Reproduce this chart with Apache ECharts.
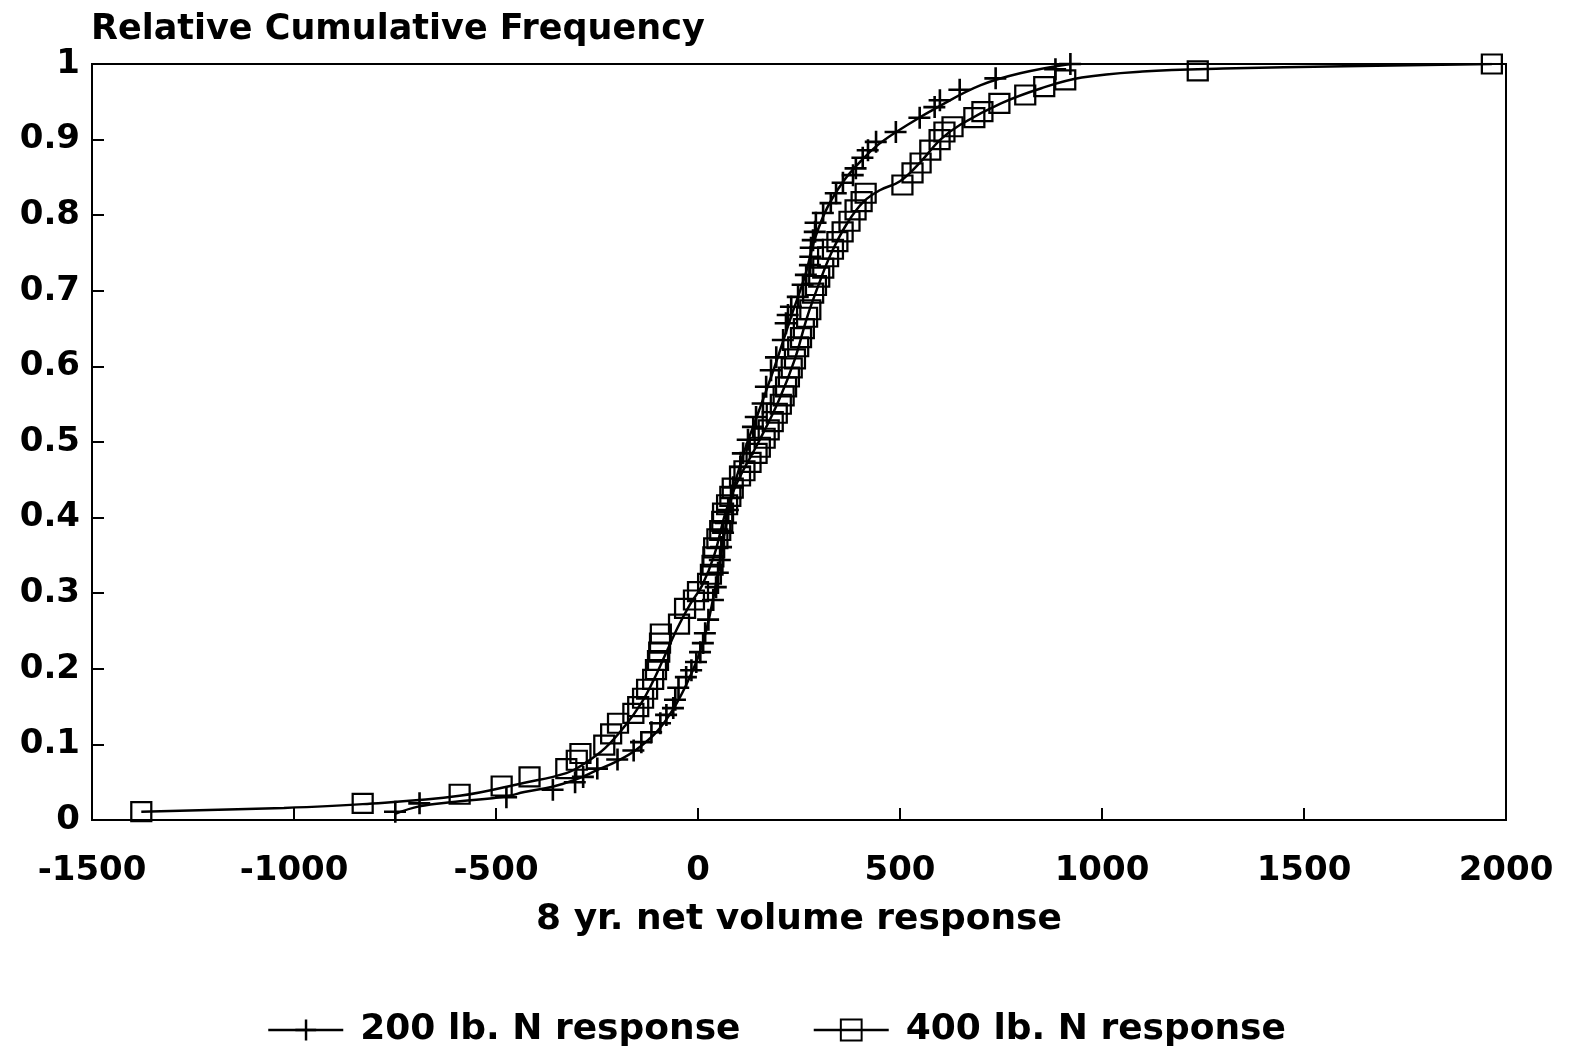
<!DOCTYPE html>
<html>
<head>
<meta charset="utf-8">
<script src="https://cdn.jsdelivr.net/npm/echarts@6/dist/echarts.min.js"></script>
<style>
html,body{margin:0;padding:0;background:#fff;}
#chart{width:1572px;height:1046px;}
</style>
</head>
<body>
<div id="chart"></div>
<script>
// ---- Data ----
var xTicks = [-1500, -1000, -500, 0, 500, 1000, 1500, 2000];
var yTicks = [0, 0.1, 0.2, 0.3, 0.4, 0.5, 0.6, 0.7, 0.8, 0.9, 1];

// 200 lb. N response: observed points (x = 8 yr net volume response, y = relative cumulative frequency)
var x200 = [-750,-690,-475,-360,-305,-285,-250,-200,-160,-141,-116,-94,-79,-62,-57,-49,-30,-17,-5,5,12,17,25,37,44,49,54,57,62,69,74,81,86,104,111,123,136,143,160,168,180,193,210,217,222,230,247,259,267,277,278,279,284,289,291,309,328,341,358,383,390,407,420,440,489,548,585,598,647,736,884,921];
var y200 = [0.011,0.022,0.030,0.040,0.050,0.057,0.068,0.080,0.092,0.103,0.116,0.128,0.139,0.148,0.159,0.175,0.189,0.198,0.209,0.222,0.234,0.247,0.265,0.291,0.308,0.327,0.344,0.361,0.380,0.393,0.410,0.426,0.440,0.467,0.485,0.503,0.520,0.533,0.551,0.573,0.595,0.612,0.635,0.657,0.668,0.679,0.692,0.708,0.721,0.734,0.745,0.757,0.767,0.778,0.790,0.803,0.816,0.829,0.843,0.853,0.862,0.876,0.886,0.897,0.910,0.929,0.943,0.952,0.966,0.981,0.993,1.000];

// 400 lb. N response: observed points
var x400 = [-1378,-830,-590,-486,-417,-326,-300,-291,-232,-215,-198,-160,-148,-136,-126,-111,-104,-99,-96,-94,-92,-47,-32,-10,0,25,32,36,38,40,48,55,60,62,72,80,86,104,115,130,145,153,165,175,185,195,205,212,218,225,232,240,248,255,262,270,278,285,292,300,310,322,334,345,358,375,390,405,415,506,531,551,575,598,610,630,684,704,746,810,857,909,1237,1965];
var y400 = [0.011,0.022,0.034,0.045,0.057,0.068,0.079,0.088,0.099,0.114,0.128,0.141,0.150,0.161,0.173,0.186,0.199,0.211,0.222,0.234,0.246,0.259,0.280,0.291,0.302,0.313,0.325,0.337,0.348,0.360,0.372,0.383,0.395,0.406,0.417,0.428,0.439,0.455,0.462,0.473,0.485,0.493,0.505,0.516,0.527,0.538,0.550,0.561,0.573,0.586,0.598,0.610,0.626,0.638,0.650,0.665,0.675,0.697,0.707,0.718,0.730,0.745,0.755,0.765,0.778,0.792,0.807,0.818,0.829,0.840,0.856,0.869,0.886,0.900,0.910,0.917,0.929,0.937,0.948,0.959,0.970,0.979,0.991,1.000];

// Smooth curves drawn through each set
var curve200X = [-750,-690,-600,-476,-430,-360,-300,-250,-200,-153,-100,-60,-30,0,20,40,60,80,110,150,190,230,265,290,320,360,400,450,520,600,700,800,921];
var curve200Y = [0.008,0.018,0.024,0.031,0.037,0.044,0.054,0.066,0.078,0.093,0.118,0.148,0.178,0.215,0.25,0.30,0.36,0.42,0.48,0.54,0.60,0.665,0.72,0.77,0.81,0.845,0.87,0.895,0.92,0.945,0.972,0.988,1.0];
var curve400X = [-1378,-1025,-830,-590,-432,-326,-280,-230,-180,-140,-110,-80,-50,-20,10,40,70,100,150,200,240,270,300,330,370,410,450,500,550,600,650,750,850,950,1100,1300,1600,1965];
var curve400Y = [0.011,0.016,0.021,0.032,0.049,0.062,0.075,0.095,0.125,0.155,0.185,0.22,0.255,0.285,0.31,0.35,0.41,0.45,0.50,0.555,0.61,0.665,0.71,0.75,0.79,0.818,0.833,0.845,0.87,0.90,0.92,0.948,0.968,0.982,0.990,0.994,0.997,1.0];

var name200 = '200 lb. N response';
var name400 = '400 lb. N response';
var yTitle = 'Relative Cumulative Frequency';
var xTitle = '8 yr. net volume response';

function zip(a, b) { return a.map(function (v, i) { return [v, b[i]]; }); }

var FONT = 'DejaVu Sans';
var plusPath = 'path://M10,0H12.6V22H10Z M0,9.7H22V12.3H0Z';

var chart = echarts.init(document.getElementById('chart'), null, {renderer: 'canvas'});
chart.setOption({
  animation: false,
  backgroundColor: '#fff',
  title: {
    text: yTitle,
    left: 86, top: 7,
    textStyle: {fontFamily: FONT, fontWeight: 'bold', fontSize: 35, color: '#000'}
  },
  grid: {
    left: 92, right: 66, top: 64, bottom: 226,
    show: true, borderColor: '#000', borderWidth: 2, backgroundColor: 'transparent'
  },
  legend: {
    left: 262, top: 1007,
    itemWidth: 75, itemHeight: 26, itemGap: 72,
    data: [name200, name400],
    textStyle: {fontFamily: FONT, fontWeight: 'bold', fontSize: 36, color: '#000', padding: [0, 0, 0, 12]},
    lineStyle: {width: 2.5, color: '#000', opacity: 1}
  },
  xAxis: {
    type: 'value', min: xTicks[0], max: xTicks[xTicks.length - 1], interval: 500,
    name: xTitle, nameLocation: 'middle', nameGap: 82,
    nameTextStyle: {fontFamily: FONT, fontWeight: 'bold', fontSize: 36, color: '#000'},
    axisLine: {show: true, onZero: false, lineStyle: {color: '#000', width: 2}},
    axisTick: {show: true, inside: true, length: 12, lineStyle: {color: '#000', width: 2}},
    axisLabel: {margin: 34, fontFamily: FONT, fontWeight: 'bold', fontSize: 34, color: '#000',
      showMinLabel: true, showMaxLabel: true,
      formatter: function (v) { return String(v); }},
    splitLine: {show: false}
  },
  yAxis: {
    type: 'value', min: yTicks[0], max: yTicks[yTicks.length - 1], interval: 0.1,
    axisLine: {show: true, onZero: false, lineStyle: {color: '#000', width: 2}},
    axisTick: {show: true, inside: true, length: 12, lineStyle: {color: '#000', width: 2}},
    axisLabel: {margin: 12, fontFamily: FONT, fontWeight: 'bold', fontSize: 34, color: '#000',
      formatter: function (v) { return (v === 0 || v === 1) ? String(v) : v.toFixed(1); }},
    splitLine: {show: false}
  },
  series: [
    {
      name: name200, type: 'line', data: zip(x200, y200),
      symbol: plusPath, symbolSize: 22, showAllSymbol: true,
      itemStyle: {color: '#000', borderWidth: 0},
      lineStyle: {width: 0, opacity: 0}, z: 5
    },
    {
      name: name400, type: 'line', data: zip(x400, y400),
      symbol: 'rect', symbolSize: [20, 19], showAllSymbol: true,
      itemStyle: {color: 'rgba(255,255,255,0)', borderColor: '#000', borderWidth: 2.2},
      lineStyle: {width: 0, opacity: 0}, z: 5
    },
    {
      name: name200 + ' curve', type: 'line', data: zip(curve200X, curve200Y),
      smooth: 0.4, symbol: 'none', lineStyle: {color: '#000', width: 2.5}, z: 3
    },
    {
      name: name400 + ' curve', type: 'line', data: zip(curve400X, curve400Y),
      smooth: 0.4, symbol: 'none', lineStyle: {color: '#000', width: 2.5}, z: 3
    }
  ]
});
</script>
</body>
</html>
